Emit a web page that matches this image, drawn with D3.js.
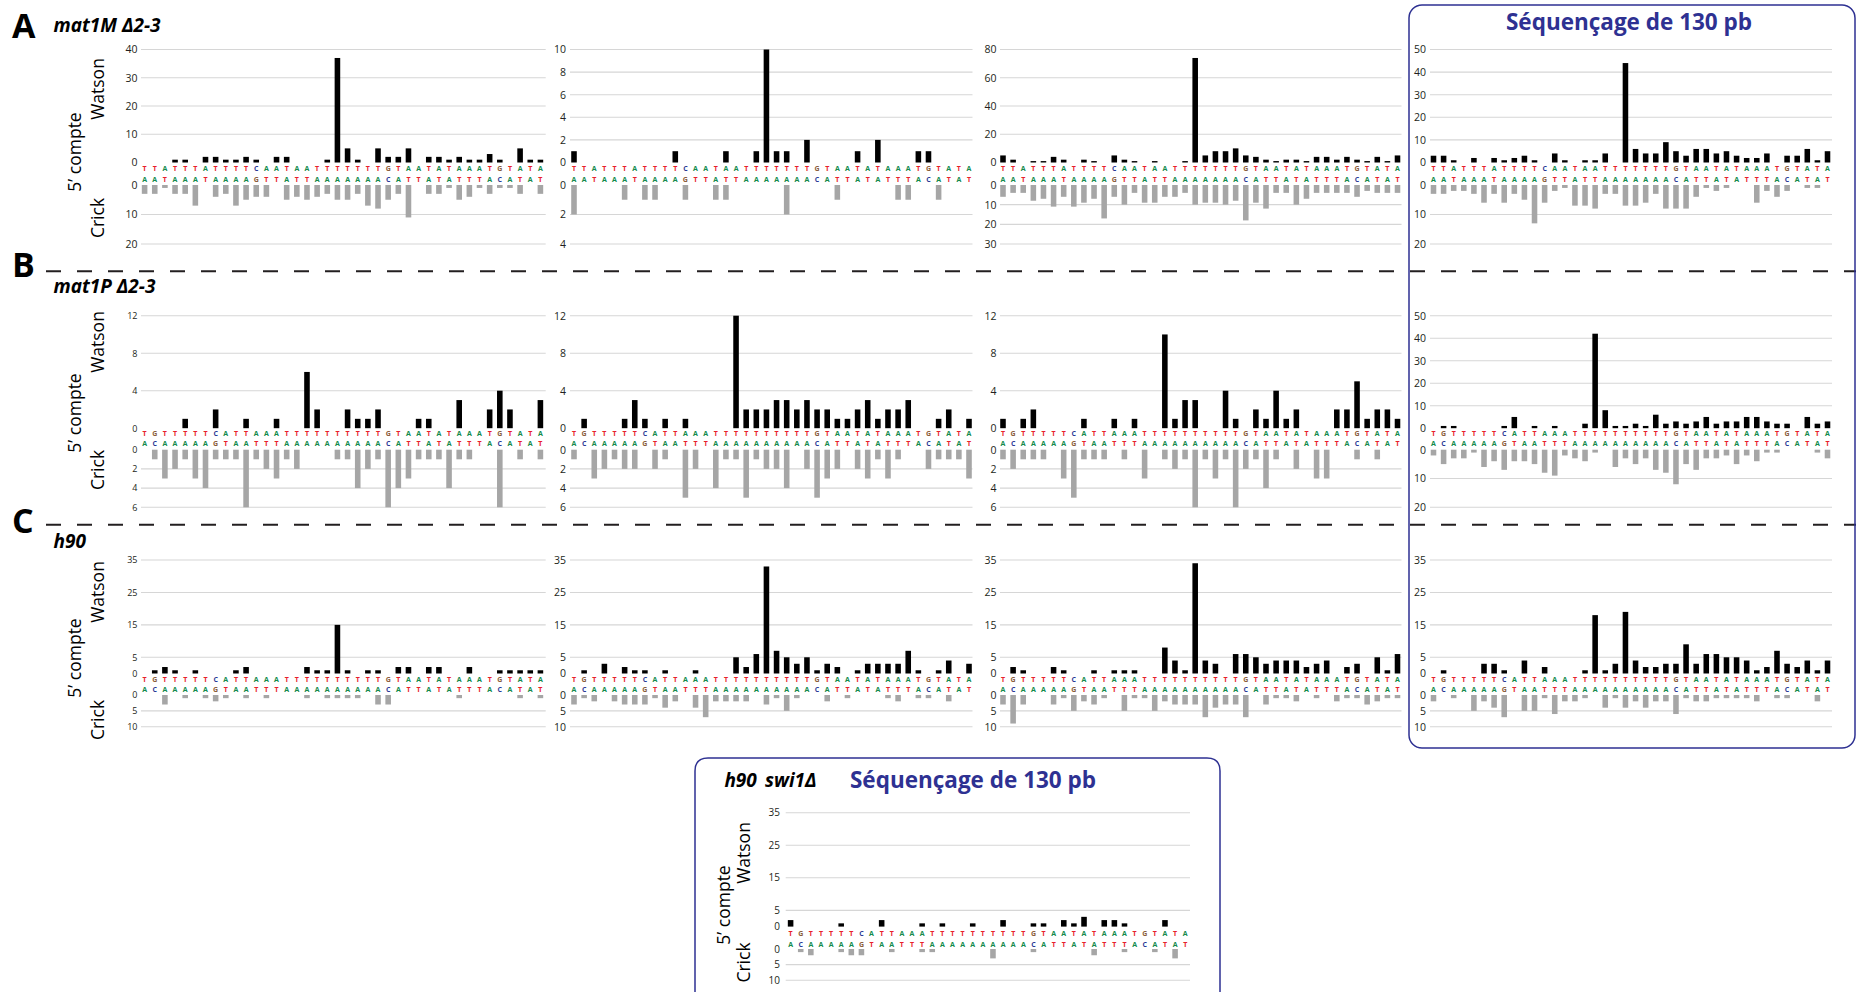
<!DOCTYPE html>
<html><head><meta charset="utf-8">
<script src="https://cdn.jsdelivr.net/npm/d3@7"></script>
<style>
html,body{margin:0;padding:0;background:#fff;}
svg{display:block;font-family:"Open Sans","Noto Sans",sans-serif;}
</style></head><body>
<svg id="chart" width="1856" height="992"></svg>
<script>
// ---------- sequences (categories) ----------
const seqTopA = [..."TTATTTATTTTCAATAATTTTTTTGTAATATAAATGTATA"];
const seqBotA = [..."AATAAATAAAAGTTATTAAAAAAACATTATATTTACATAT"];
const seqTopB = [..."TGTTTTTCATTAAATTTTTTTTTTGTAATATAAATGTATA"];
const seqBotB = [..."ACAAAAAGTAATTTAAAAAAAAAACATTATATTTACATAT"];

// ---------- row A : mat1M Δ2-3 ----------
const watsonA1 = [0,0,0,1,1,0,2,2,1,1, 2,1,0,2,2,0,0,0,1,37, 5,1,0,5,2,2,5,0,2,2, 1,2,1,1,3,1,0,5,1,1];
const crickA1  = [3,3,1,3,3,7,0,4,3,7, 5,4,4,0,5,4,5,4,3,5, 5,3,7,8,5,3,11,0,3,3, 1,5,4,1,3,1,1,3,0,3];
const watsonA2 = [1,0,0,0,0,0,0,0,0,0, 1,0,0,0,0,1,0,0,1,10, 1,1,0,2,0,0,0,0,1,0, 2,0,0,0,1,1,0,0,0,0];
const crickA2  = [2,0,0,0,0,1,0,1,1,0, 0,1,0,0,1,1,0,0,0,0, 0,2,0,0,0,0,1,0,0,0, 0,0,1,1,0,0,1,0,0,0];
const watsonA3 = [5,2,0,1,1,4,2,0,2,1, 0,5,2,1,0,1,0,0,1,74, 5,8,8,10,5,4,2,1,2,2, 1,4,4,2,4,2,1,4,1,5];
const crickA3  = [6,4,4,8,7,11,6,11,9,7, 17,6,10,4,9,9,6,6,4,10, 9,9,10,8,18,9,12,4,4,10, 7,4,4,4,4,6,3,4,4,4];
const watsonA4 = [3,3,1,0,2,0,2,1,2,3, 1,0,4,1,0,1,1,4,0,44, 6,4,4,9,5,3,6,6,4,5, 3,2,2,4,0,3,3,6,1,5];
const crickA4  = [3,3,2,2,3,6,3,6,3,5, 13,6,2,1,7,7,8,3,3,7, 7,6,3,8,8,8,4,1,2,1, 0,0,6,2,4,2,0,1,1,0];

// ---------- row B : mat1P Δ2-3 ----------
const watsonB1 = [0,0,0,0,1,0,0,2,0,0, 1,0,0,1,0,0,6,2,0,0, 2,1,1,2,0,0,0,1,1,0, 0,3,0,0,2,4,2,0,0,3];
const crickB1  = [0,1,3,2,1,3,4,1,1,1, 6,1,2,3,1,2,0,0,0,1, 1,4,2,1,6,4,3,1,1,1, 4,1,1,0,0,6,0,1,0,1];
const watsonB2 = [0,1,0,0,0,1,3,1,0,1, 0,1,0,0,0,0,12,2,2,2, 3,3,2,3,2,2,1,1,2,3, 1,2,2,3,0,0,1,2,0,1];
const crickB2  = [1,0,3,2,1,2,2,0,2,1, 0,5,2,0,4,1,1,5,1,2, 2,4,0,2,5,3,2,0,2,3, 1,3,1,0,0,2,1,1,1,3];
const watsonB3 = [1,0,1,2,0,0,0,0,1,0, 0,1,0,1,0,0,10,1,3,3, 0,0,4,1,0,2,1,4,1,2, 0,0,0,2,2,5,1,2,2,1];
const crickB3  = [1,2,1,1,1,0,3,5,1,1, 1,0,1,0,3,0,1,2,1,6, 1,3,1,6,2,1,4,1,0,2, 0,3,3,0,0,1,0,1,0,0];
const watsonB4 = [0,1,1,0,0,0,0,1,5,0, 1,0,1,0,0,2,42,8,1,1, 2,1,6,2,3,2,3,5,2,3, 3,5,5,3,2,2,0,5,2,3];
const crickB4  = [2,5,3,3,1,6,4,7,4,4, 5,8,9,2,3,4,1,0,6,3, 5,3,7,8,12,5,7,3,3,2, 5,2,4,1,1,0,0,0,1,3];

// ---------- row C : h90 ----------
const watsonC1 = [0,1,2,1,0,1,0,0,0,1, 2,0,0,0,0,0,2,1,1,15, 1,0,1,1,0,2,2,0,2,2, 0,0,2,0,0,1,1,1,1,1];
const crickC1  = [0,0,3,0,1,0,1,2,1,0, 1,0,1,0,0,0,1,0,1,1, 1,1,0,3,3,0,0,0,0,0, 0,1,0,0,0,0,0,1,0,1];
const watsonC2 = [0,1,0,3,0,2,1,1,0,1, 0,0,1,0,0,0,5,2,6,33, 7,5,3,5,1,3,2,0,1,3, 3,3,3,7,1,0,1,4,0,3];
const crickC2  = [3,1,2,0,2,3,3,3,1,4, 2,0,4,7,2,2,2,2,0,3, 1,5,1,0,0,2,0,1,0,0, 0,1,2,0,1,1,0,2,0,0];
const watsonC3 = [0,2,1,0,0,2,1,0,0,1, 0,1,1,1,0,0,8,4,1,34, 4,3,0,6,6,5,3,4,4,4, 2,3,4,0,2,3,0,5,1,6];
const crickC3  = [3,9,3,0,0,3,1,5,2,3, 1,0,5,1,1,5,2,3,3,3, 7,4,3,3,7,0,3,1,1,2, 0,1,0,2,1,1,3,2,1,1];
const watsonC4 = [0,1,0,0,0,3,3,1,0,4, 0,2,0,0,0,1,18,1,3,19, 4,2,2,3,3,9,3,6,6,5, 5,4,1,2,7,3,2,4,1,4];
const crickC4  = [2,0,1,0,5,2,4,7,0,5, 5,1,6,2,2,1,0,4,1,4, 2,4,2,2,6,1,2,2,1,1, 1,1,2,0,1,1,0,0,2,0];

// ---------- h90 swi1Δ ----------
const watsonD = [2,0,0,0,0,1,0,0,0,2, 0,0,0,1,0,1,0,0,1,0, 0,2,0,0,1,1,0,2,1,3, 0,2,2,1,0,0,0,2,0,0];
const crickD  = [0,1,2,0,0,1,2,2,0,0, 1,0,0,1,1,0,0,0,0,0, 3,0,0,0,1,0,0,0,0,0, 2,0,0,1,0,0,1,0,3,0];

// ---------- tick labels ----------
const wTicksA1 = [0,10,20,30,40];      const cTicksA1 = [0,10,20];
const wTicksA2 = [0,2,4,6,8,10];       const cTicksA2 = [0,2,4];
const wTicksA3 = [0,20,40,60,80];      const cTicksA3 = [0,10,20,30];
const wTicksA4 = [0,10,20,30,40,50];   const cTicksA4 = [0,10,20];
const wTicksB  = [0,4,8,12];           const cTicksB  = [0,2,4,6];
const wTicksB4 = [0,10,20,30,40,50];   const cTicksB4 = [0,10,20];
const wTicksC  = [0,5,15,25,35];       const cTicksC  = [0,5,10];

// ---------- text ----------
const rowLetters = ["A","B","C"];
const rowNames = ["mat1M Δ2-3","mat1P Δ2-3","h90"];
const boxTitle = "Séquençage de 130 pb";

// ---------- layout ----------
const cols = [
  {lab:137.5, g0:141,  g1:545.7, l0:144.6, l1:540.4},
  {lab:566,   g0:570,  g1:972.5, l0:574,   l1:969},
  {lab:996.5, g0:1000, g1:1401.5,l0:1003,  l1:1397.5},
  {lab:1426,  g0:1430, g1:1832,  l0:1433.5,l1:1827.5}
];
const colD = {lab:780, g0:785.7, g1:1190, l0:790.6, l1:1185.2};
const rows = {
  A:{wTop:49.5, w0:162.5, lt:168.3, lb:179,   c0:185,   cBot:244},
  B:{wTop:315.7,w0:428.2, lt:433.7, lb:443.7, c0:449.7, cBot:507.3},
  C:{wTop:560,  w0:673.5, lt:679.3, lb:689.5, c0:695,   cBot:726.7},
  D:{wTop:812.7,w0:926.6, lt:933.3, lb:944,   c0:949,   cBot:980.3}
};
const baseColor = {T:"#e8202a", A:"#128a4c", C:"#2b3a96", G:"#8b5e3c"};
const BLUE = "#2e3192";

const panels = [
  {col:cols[0],row:rows.A,fs:10.5,w:watsonA1,c:crickA1,wt:wTicksA1,ct:cTicksA1,top:seqTopA,bot:seqBotA},
  {col:cols[1],row:rows.A,fs:10.5,w:watsonA2,c:crickA2,wt:wTicksA2,ct:cTicksA2,top:seqTopA,bot:seqBotA},
  {col:cols[2],row:rows.A,fs:10.5,w:watsonA3,c:crickA3,wt:wTicksA3,ct:cTicksA3,top:seqTopA,bot:seqBotA},
  {col:cols[3],row:rows.A,fs:10.5,w:watsonA4,c:crickA4,wt:wTicksA4,ct:cTicksA4,top:seqTopA,bot:seqBotA},
  {col:cols[0],row:rows.B,fs:9,   w:watsonB1,c:crickB1,wt:wTicksB, ct:cTicksB, top:seqTopB,bot:seqBotB},
  {col:cols[1],row:rows.B,fs:10.5,w:watsonB2,c:crickB2,wt:wTicksB, ct:cTicksB, top:seqTopB,bot:seqBotB},
  {col:cols[2],row:rows.B,fs:10.5,w:watsonB3,c:crickB3,wt:wTicksB, ct:cTicksB, top:seqTopB,bot:seqBotB},
  {col:cols[3],row:rows.B,fs:10.5,w:watsonB4,c:crickB4,wt:wTicksB4,ct:cTicksB4,top:seqTopB,bot:seqBotB},
  {col:cols[0],row:rows.C,fs:9,   w:watsonC1,c:crickC1,wt:wTicksC, ct:cTicksC, top:seqTopB,bot:seqBotB},
  {col:cols[1],row:rows.C,fs:10.5,w:watsonC2,c:crickC2,wt:wTicksC, ct:cTicksC, top:seqTopB,bot:seqBotB},
  {col:cols[2],row:rows.C,fs:10.5,w:watsonC3,c:crickC3,wt:wTicksC, ct:cTicksC, top:seqTopB,bot:seqBotB},
  {col:cols[3],row:rows.C,fs:10.5,w:watsonC4,c:crickC4,wt:wTicksC, ct:cTicksC, top:seqTopB,bot:seqBotB},
  {col:colD,   row:rows.D,fs:10,  w:watsonD, c:crickD, wt:wTicksC, ct:cTicksC, top:seqTopB,bot:seqBotB}
];

const svg = d3.select("#chart");
svg.append("rect").attr("width",1856).attr("height",992).attr("fill","#fff");

function drawPanel(p){
  const col = p.col, row = p.row;
  const g = svg.append("g");
  const x = d3.scalePoint().domain(d3.range(p.w.length)).range([col.l0, col.l1]);
  const bw = x.step()*0.55;
  const yw = d3.scaleLinear().domain([0, d3.max(p.wt)]).range([row.w0, row.wTop]);
  const yc = d3.scaleLinear().domain([0, d3.max(p.ct)]).range([row.c0, row.cBot]);

  const grid = (ticks, y) => g.append("g").selectAll("line").data(ticks.filter(t=>t>0)).join("line")
      .attr("x1",col.g0).attr("x2",col.g1).attr("y1",d=>y(d)).attr("y2",d=>y(d))
      .attr("stroke","#d6d6d6").attr("stroke-width",1.1);
  grid(p.wt, yw); grid(p.ct, yc);

  const styleAxis = s => {
    s.select(".domain").remove();
    s.attr("font-family",null).attr("font-size",null);
    s.selectAll("text").attr("font-size",p.fs).attr("fill","#231f20")
      .attr("font-family",'"Open Sans","Noto Sans",sans-serif');
  };
  g.append("g").attr("transform",`translate(${col.g0},0)`)
    .call(d3.axisLeft(yw).tickValues(p.wt).tickSize(0).tickPadding(col.g0-col.lab).tickFormat(d3.format("d")))
    .call(styleAxis);
  g.append("g").attr("transform",`translate(${col.g0},0)`)
    .call(d3.axisLeft(yc).tickValues(p.ct).tickSize(0).tickPadding(col.g0-col.lab).tickFormat(d3.format("d")))
    .call(styleAxis);

  g.append("g").selectAll("rect").data(p.w.map((v,i)=>({v,i})).filter(d=>d.v>0)).join("rect")
    .attr("x",d=>x(d.i)-bw/2).attr("width",bw)
    .attr("y",d=>yw(d.v)).attr("height",d=>row.w0-yw(d.v)).attr("fill","#000");
  g.append("g").selectAll("rect").data(p.c.map((v,i)=>({v,i})).filter(d=>d.v>0)).join("rect")
    .attr("x",d=>x(d.i)-bw/2).attr("width",bw)
    .attr("y",row.c0).attr("height",d=>yc(d.v)-row.c0).attr("fill","#a6a6a6");

  const letters = (seq, yc0) => g.append("g").selectAll("text").data(seq).join("text")
    .attr("x",(d,i)=>x(i)).attr("y",yc0+2.6).attr("text-anchor","middle")
    .attr("font-size",7).attr("font-weight",700).attr("fill",d=>baseColor[d]).text(d=>d);
  letters(p.top, row.lt); letters(p.bot, row.lb);
}
panels.forEach(drawPanel);

[271.3, 524.7].forEach(y=>{
  svg.append("line").attr("x1",46).attr("x2",1856).attr("y1",y).attr("y2",y)
    .attr("stroke","#231f20").attr("stroke-width",2).attr("stroke-dasharray","15,16");
});

svg.append("rect").attr("x",1409).attr("y",5).attr("width",446).attr("height",743)
  .attr("rx",13).attr("fill","none").attr("stroke",BLUE).attr("stroke-width",1.5);
svg.append("path").attr("d","M695,1000 V771 Q695,758 708,758 H1207 Q1220,758 1220,771 V1000")
  .attr("fill","none").attr("stroke",BLUE).attr("stroke-width",1.5);

svg.append("text").attr("x",1629).attr("y",30).attr("text-anchor","middle")
  .attr("font-size",22.5).attr("font-weight",700).attr("fill",BLUE).text(boxTitle);
svg.append("text").attr("x",973).attr("y",787.5).attr("text-anchor","middle")
  .attr("font-size",22.5).attr("font-weight",700).attr("fill",BLUE).text(boxTitle);

const rowLetterY = [38, 277, 533];
const rowNameY = [31.7, 293, 548.3];
rowLetters.forEach((L,i)=>{
  svg.append("text").attr("x",12).attr("y",rowLetterY[i]).attr("font-size",34)
    .attr("font-weight",700).attr("fill","#000").text(L);
  svg.append("text").attr("x",53.6).attr("y",rowNameY[i]).attr("font-size",19)
    .attr("font-weight",700).attr("font-style","italic").attr("fill","#000").text(rowNames[i]);
});
const dName = svg.append("text").attr("y",786.7).attr("font-size",19)
  .attr("font-weight",700).attr("font-style","italic").attr("fill","#000");
dName.append("tspan").attr("x",724.4).text("h90");
dName.append("tspan").attr("x",765).text("swi1Δ");

function yTitles(xw, xc, yWat, yComp, yCrick){
  const t = (x,y,s) => svg.append("text").attr("transform",`translate(${x},${y}) rotate(-90)`)
    .attr("text-anchor","middle").attr("font-size",17.5).attr("fill","#000").text(s);
  t(xw, yWat, "Watson"); t(xc, yComp, "5’ compte"); t(xw, yCrick, "Crick");
}
yTitles(104, 81, 89, 152, 218);
yTitles(104, 81, 342, 413, 470);
yTitles(104, 81, 592, 658, 720);
yTitles(750, 730, 853, 905, 962.5);
</script>
</body></html>
